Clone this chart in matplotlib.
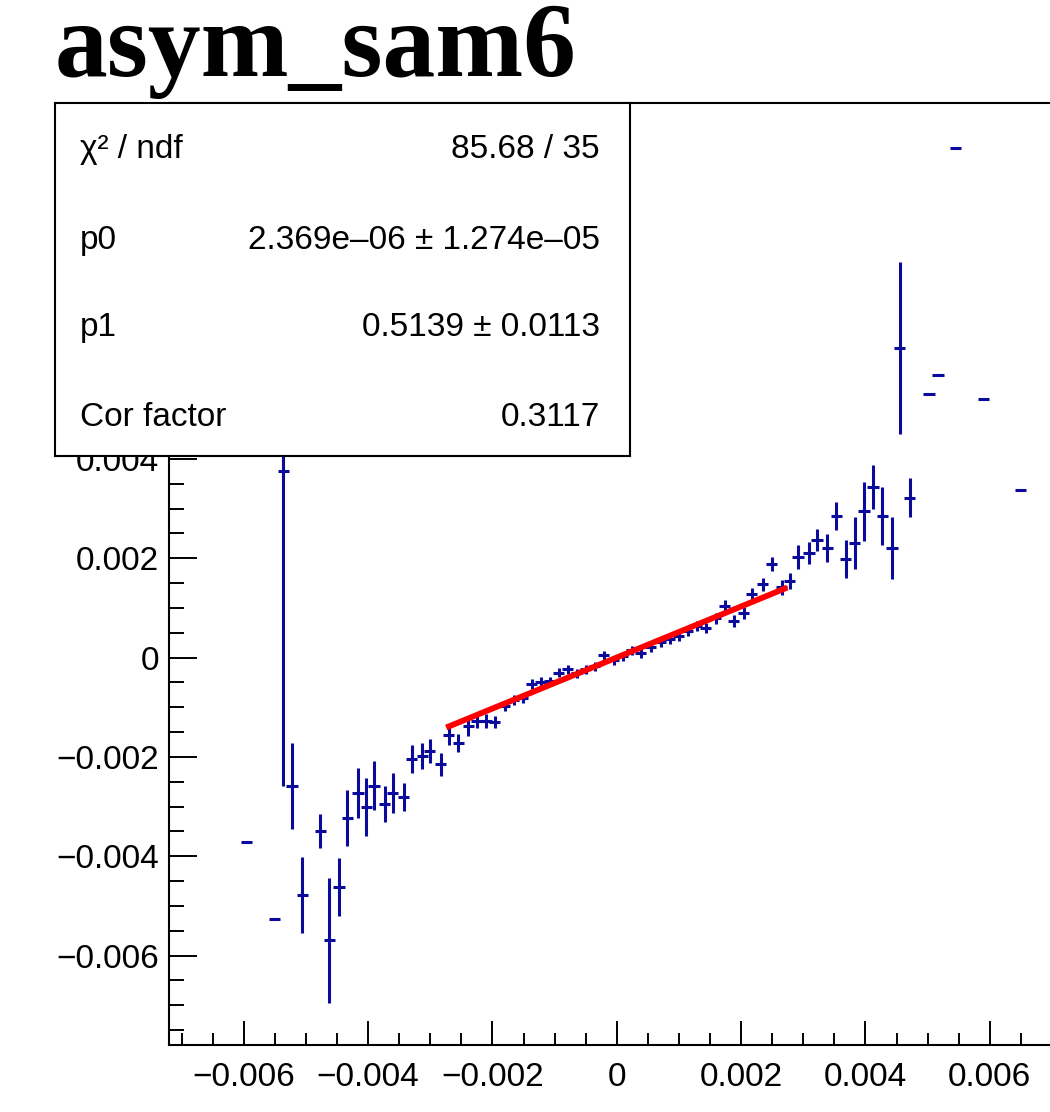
import numpy as np
import matplotlib
matplotlib.use('Agg')
import matplotlib.pyplot as plt
from matplotlib.ticker import MultipleLocator

plt.rcParams['font.family'] = ['Liberation Sans', 'DejaVu Sans']

# data points (x, y, y error) in units of 1e-3
x_vals = [-5.960, -5.510, -5.362, -5.225, -5.059, -4.767, -4.627, -4.469, -4.333, -4.161,
          -4.031, -3.904, -3.735, -3.601, -3.424, -3.301, -3.130, -3.011, -2.833, -2.704,
          -2.548, -2.391, -2.251, -2.101, -1.961, -1.801, -1.656, -1.511, -1.367, -1.222,
          -1.077, -0.932, -0.788, -0.643, -0.498, -0.354, -0.209, -0.048, 0.096, 0.241,
          0.386, 0.547, 0.707, 0.852, 0.997, 1.141, 1.286, 1.431, 1.592, 1.736,
          1.881, 2.042, 2.170, 2.347, 2.492, 2.653, 2.781, 2.915, 3.092, 3.220,
          3.387, 3.532, 3.682, 3.826, 3.976, 4.121, 4.272, 4.426, 4.550, 4.711,
          5.021, 5.166, 5.445, 5.900, 6.495]
y_vals = [-3.710, -5.273, 3.756, -2.582, -4.783, -3.494, -5.696, -4.616, -3.227, -2.735,
          -3.011, -2.582, -2.955, -2.735, -2.804, -2.044, -1.988, -1.877, -2.149, -1.551,
          -1.712, -1.380, -1.285, -1.285, -1.293, -0.977, -0.846, -0.810, -0.534, -0.493,
          -0.473, -0.306, -0.232, -0.312, -0.232, -0.171, 0.050, -0.050, 0.030, 0.151,
          0.091, 0.211, 0.312, 0.373, 0.433, 0.534, 0.634, 0.588, 0.796, 1.047,
          0.735, 0.896, 1.273, 1.480, 1.883, 1.420, 1.547, 2.030, 2.099, 2.367,
          2.199, 2.850, 1.984, 2.312, 2.951, 3.440, 2.850, 2.199, 6.228, 3.219,
          5.307, 5.690, 10.256, 5.200, 3.374]
y_errs = [0.0, 0.0, 6.344, 0.866, 0.765, 0.342, 1.259, 0.584, 0.564, 0.504,
          0.584, 0.493, 0.363, 0.403, 0.282, 0.282, 0.262, 0.242, 0.232, 0.201,
          0.181, 0.191, 0.141, 0.141, 0.121, 0.101, 0.101, 0.101, 0.100, 0.100,
          0.090, 0.090, 0.090, 0.090, 0.090, 0.090, 0.090, 0.090, 0.090, 0.090,
          0.090, 0.090, 0.090, 0.090, 0.090, 0.100, 0.100, 0.100, 0.110, 0.110,
          0.120, 0.120, 0.130, 0.130, 0.140, 0.150, 0.160, 0.236, 0.222, 0.222,
          0.282, 0.282, 0.383, 0.518, 0.594, 0.443, 0.584, 0.624, 1.732, 0.393,
          0.0, 0.0, 0.0, 0.0, 0.0]
x_err = 0.09  # half bin width, 1e-3

# fit result (pol1)
p0, p1 = 2.369e-06, 0.5139
fit_lo, fit_hi = -0.0027, 0.0027

stats_labels = ['χ² / ndf', 'p0', 'p1', 'Cor factor']
stats_values = ['85.68 / 35', '2.369e–06 ± 1.274e–05', '0.5139 ± 0.0113', '0.3117']

x = np.array(x_vals) * 1e-3
y = np.array(y_vals) * 1e-3
ey = np.array(y_errs) * 1e-3
ex = np.full(len(x), x_err * 1e-3)


def fmt_tick(v, pos, hide_above=None):
    if hide_above is not None and v > hide_above:
        return ''  # these sit under the stats box anyway
    if abs(v) < 1e-9:
        return '0'
    return f'{v:.3f}'.replace('-', '−')


fig = plt.figure(figsize=(10.5, 11.12), dpi=100)
ax = fig.add_axes([0.1605, 0.0603, 0.8538, 0.8471])

ax.errorbar(x, y, yerr=ey, xerr=ex, fmt='none', ecolor='#0a0a9c',
            elinewidth=2.2, capsize=0, zorder=2)

xf = np.linspace(fit_lo, fit_hi, 200)
ax.plot(xf, p0 + p1 * xf, color='red', lw=4.2, zorder=3)

ax.set_xlim(-0.00721, 0.00721)
ax.set_ylim(-0.0078, 0.01117)
ax.xaxis.set_major_locator(MultipleLocator(0.002))
ax.xaxis.set_minor_locator(MultipleLocator(0.0005))
ax.yaxis.set_major_locator(MultipleLocator(0.002))
ax.yaxis.set_minor_locator(MultipleLocator(0.0005))
ax.xaxis.set_major_formatter(plt.FuncFormatter(fmt_tick))
ax.yaxis.set_major_formatter(plt.FuncFormatter(lambda v, p: fmt_tick(v, p, hide_above=0.005)))

ax.tick_params(axis='x', which='major', direction='in', length=17, width=1.4, labelsize=24, pad=12)
ax.tick_params(axis='x', which='minor', direction='in', length=8.5, width=1.4)
ax.tick_params(axis='y', which='major', direction='in', length=20, width=1.4, labelsize=24, pad=7)
ax.tick_params(axis='y', which='minor', direction='in', length=10.5, width=1.4)
for s in ax.spines.values():
    s.set_linewidth(1.5)

# title
fig.text(55 / 1050, 1 - 76 / 1112, 'asym_sam6', family='Liberation Serif',
         fontweight='bold', fontsize=76, ha='left', va='baseline')

# stats box
box = fig.add_axes([55 / 1050, 1 - 456 / 1112, 575 / 1050, 353 / 1112], zorder=5)
box.set_xticks([])
box.set_yticks([])
box.set_facecolor('white')
for s in box.spines.values():
    s.set_linewidth(1.5)
row_base = [158, 249, 336, 426]
for lab, val, yb in zip(stats_labels, stats_values, row_base):
    yy = (456 - yb) / 353
    box.text(0.0435, yy, lab, fontsize=24, ha='left', va='baseline', transform=box.transAxes)
    box.text(0.948, yy, val, fontsize=24, ha='right', va='baseline', transform=box.transAxes)

fig.savefig('out.png', dpi=100)
